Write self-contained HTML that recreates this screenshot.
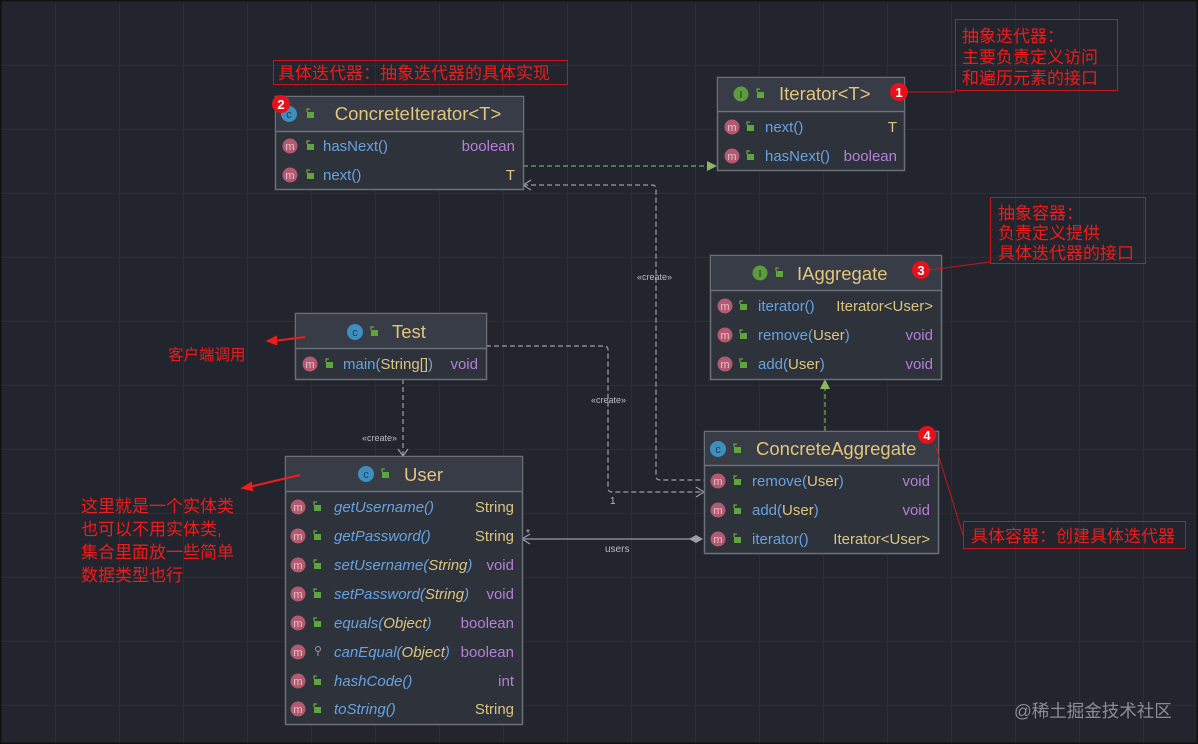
<!DOCTYPE html>
<html><head><meta charset="utf-8"><style>
html,body{margin:0;padding:0;background:#22252d;}
svg{display:block}
.t{font-family:"Liberation Sans","DejaVu Sans",sans-serif;}
.h{font-size:18.5px;fill:#e3c57c}
.r{font-size:15px}
.n{fill:#67a2e0}
.p{fill:#dcc57f}
.v{fill:#b67fd9}
.y{fill:#dcc57f}
.i{font-style:italic}
.cn{font-family:"Liberation Sans","Noto Sans CJK SC",sans-serif;fill:#ee1c1c;font-size:17px}
.lb{font-size:9px;fill:#b8bcc4}
</style></head><body>
<svg width="1198" height="744" viewBox="0 0 1198 744" xmlns="http://www.w3.org/2000/svg">
<defs>
<pattern id="g" x="55" y="65" width="64" height="64" patternUnits="userSpaceOnUse">
<path d="M0 0H64M0 0V64" stroke="#30333c" stroke-width="1.2" fill="none"/>
</pattern>
<g id="m"><circle r="7.5" fill="#b45a70"/><text x="0" y="4" text-anchor="middle" font-size="11" fill="#e4c0c8" font-family="Liberation Sans,sans-serif">m</text></g>
<g id="l"><rect x="-3" y="-3" width="7" height="6" fill="#5ea53e"/><path d="M-3 -3v-3h3" stroke="#5ea53e" fill="none" stroke-width="1.3"/></g>
<g id="c"><circle r="8" fill="#3d8fc0"/><text x="0" y="4" text-anchor="middle" font-size="11" fill="#1d3d55" font-family="Liberation Sans,sans-serif">c</text></g>
</defs>
<rect width="1198" height="744" fill="#22252d"/>
<rect width="1198" height="744" fill="url(#g)"/>
<rect x="0.5" y="0.5" width="1197" height="743" fill="none" stroke="#111" stroke-width="2"/>

<g fill="none" stroke="#9a9ea6" stroke-width="1.2" stroke-dasharray="5,3">
<path d="M523 185H652q4 0 4 4V476q0 4 4 4H704"/>
<path d="M486 346H604q4 0 4 4V488q0 4 4 4H704"/>
<path d="M403 379V456"/>
</g>
<g fill="none" stroke="#9a9ea6" stroke-width="1.2">
<path d="M531 180l-8 5 8 5"/><path d="M696 487l8 5-8 5"/><path d="M398 449l5 7 5-7"/>
<path d="M522 539H690"/><path d="M530 534l-8 5 8 5"/>
</g>
<path d="M689 539l7-4 7 4-7 4z" fill="#9a9ea6"/>
<g fill="none" stroke="#7fa85a" stroke-width="1.2" stroke-dasharray="5,3">
<path d="M523 166H708"/><path d="M825 431V388"/>
</g>
<path d="M717 166l-10-5v10z" fill="#8ab85e"/><path d="M825 379l-5 10h10z" fill="#8ab85e"/>
<g class="t lb">
<text x="637" y="280">«create»</text>
<text x="591" y="403">«create»</text>
<text x="362" y="441">«create»</text>
<text x="610" y="504" font-size="10">1</text>
<text x="526" y="536" font-size="10">*</text>
<text x="605" y="552" font-size="10">users</text>
</g>

<g class="t">
<rect x="275.5" y="96.5" width="248" height="93" fill="#2e323b" stroke="#6b6f78" stroke-width="1.5"/>
<rect x="276" y="97" width="247" height="34" fill="#383c46"/><path d="M276 131.5H523" stroke="#6b6f78" stroke-width="1.5"/>
<use href="#c" x="289" y="114"/><use href="#l" x="310" y="115"/>
<text x="418" y="120" text-anchor="middle" class="h">ConcreteIterator&lt;T&gt;</text>
<use href="#m" x="290" y="146"/><use href="#l" x="310" y="147"/><text x="323" y="151" class="r n">hasNext()</text><text x="515" y="151" text-anchor="end" class="r v">boolean</text>
<use href="#m" x="290" y="175"/><use href="#l" x="310" y="176"/><text x="323" y="180" class="r n">next()</text><text x="515" y="180" text-anchor="end" class="r y">T</text>
</g>

<g class="t">
<rect x="717.5" y="77.5" width="187" height="93" fill="#2e323b" stroke="#6b6f78" stroke-width="1.5"/>
<rect x="718" y="78" width="186" height="33" fill="#383c46"/><path d="M718 111.5H904" stroke="#6b6f78" stroke-width="1.5"/>
<circle cx="741" cy="94" r="7.5" fill="#5e9a3e"/><text x="741" y="98" text-anchor="middle" font-size="10" fill="#1e3010">I</text><use href="#l" x="760" y="95"/>
<text x="779" y="100" class="h">Iterator&lt;T&gt;</text>
<use href="#m" x="732" y="127"/><use href="#l" x="750" y="128"/><text x="765" y="132" class="r n">next()</text><text x="897" y="132" text-anchor="end" class="r y">T</text>
<use href="#m" x="732" y="156"/><use href="#l" x="750" y="157"/><text x="765" y="161" class="r n">hasNext()</text><text x="897" y="161" text-anchor="end" class="r v">boolean</text>
</g>

<g class="t">
<rect x="710.5" y="255.5" width="231" height="124" fill="#2e323b" stroke="#6b6f78" stroke-width="1.5"/>
<rect x="711" y="256" width="230" height="34" fill="#383c46"/><path d="M711 290.5H941" stroke="#6b6f78" stroke-width="1.5"/>
<circle cx="760" cy="273" r="7.5" fill="#5e9a3e"/><text x="760" y="277" text-anchor="middle" font-size="10" fill="#1e3010">I</text><use href="#l" x="779" y="274"/>
<text x="797" y="280" class="h">IAggregate</text>
<use href="#m" x="725" y="306"/><use href="#l" x="743" y="307"/><text x="758" y="311" class="r n">iterator()</text><text x="933" y="311" text-anchor="end" class="r y">Iterator&lt;User&gt;</text>
<use href="#m" x="725" y="335"/><use href="#l" x="743" y="336"/><text x="758" y="340" class="r"><tspan class="n">remove(</tspan><tspan class="p">User</tspan><tspan class="n">)</tspan></text><text x="933" y="340" text-anchor="end" class="r v">void</text>
<use href="#m" x="725" y="364"/><use href="#l" x="743" y="365"/><text x="758" y="369" class="r"><tspan class="n">add(</tspan><tspan class="p">User</tspan><tspan class="n">)</tspan></text><text x="933" y="369" text-anchor="end" class="r v">void</text>
</g>

<g class="t">
<rect x="295.5" y="313.5" width="191" height="66" fill="#2e323b" stroke="#6b6f78" stroke-width="1.5"/>
<rect x="296" y="314" width="190" height="34" fill="#383c46"/><path d="M296 348.5H486" stroke="#6b6f78" stroke-width="1.5"/>
<use href="#c" x="355" y="332"/><use href="#l" x="374" y="333"/>
<text x="392" y="338" class="h">Test</text>
<use href="#m" x="310" y="364"/><use href="#l" x="329" y="365"/><text x="343" y="369" class="r"><tspan class="n">main(</tspan><tspan class="p">String[]</tspan><tspan class="n">)</tspan></text><text x="478" y="369" text-anchor="end" class="r v">void</text>
</g>

<g class="t">
<rect x="285.5" y="456.5" width="237" height="268" fill="#2e323b" stroke="#6b6f78" stroke-width="1.5"/>
<rect x="286" y="457" width="236" height="34" fill="#383c46"/><path d="M286 491.5H522" stroke="#6b6f78" stroke-width="1.5"/>
<use href="#c" x="366" y="474"/><use href="#l" x="385" y="475"/>
<text x="404" y="481" class="h">User</text>
<g class="r">
<use href="#m" x="298" y="507"/><use href="#l" x="317" y="508"/><text x="334" y="512" class="n i">getUsername()</text><text x="514" y="512" text-anchor="end" class="y">String</text>
<use href="#m" x="298" y="536"/><use href="#l" x="317" y="537"/><text x="334" y="541" class="n i">getPassword()</text><text x="514" y="541" text-anchor="end" class="y">String</text>
<use href="#m" x="298" y="565"/><use href="#l" x="317" y="566"/><text x="334" y="570" class="i"><tspan class="n">setUsername(</tspan><tspan class="p">String</tspan><tspan class="n">)</tspan></text><text x="514" y="570" text-anchor="end" class="v">void</text>
<use href="#m" x="298" y="594"/><use href="#l" x="317" y="595"/><text x="334" y="599" class="i"><tspan class="n">setPassword(</tspan><tspan class="p">String</tspan><tspan class="n">)</tspan></text><text x="514" y="599" text-anchor="end" class="v">void</text>
<use href="#m" x="298" y="623"/><use href="#l" x="317" y="624"/><text x="334" y="628" class="i"><tspan class="n">equals(</tspan><tspan class="p">Object</tspan><tspan class="n">)</tspan></text><text x="514" y="628" text-anchor="end" class="v">boolean</text>
<use href="#m" x="298" y="652"/><circle cx="318" cy="649" r="2.5" fill="none" stroke="#999"/><path d="M318 651v5" stroke="#999"/><text x="334" y="657" class="i"><tspan class="n">canEqual(</tspan><tspan class="p">Object</tspan><tspan class="n">)</tspan></text><text x="514" y="657" text-anchor="end" class="v">boolean</text>
<use href="#m" x="298" y="681"/><use href="#l" x="317" y="682"/><text x="334" y="686" class="n i">hashCode()</text><text x="514" y="686" text-anchor="end" class="v">int</text>
<use href="#m" x="298" y="709"/><use href="#l" x="317" y="710"/><text x="334" y="714" class="n i">toString()</text><text x="514" y="714" text-anchor="end" class="y">String</text>
</g></g>

<g class="t">
<rect x="704.5" y="431.5" width="234" height="122" fill="#2e323b" stroke="#6b6f78" stroke-width="1.5"/>
<rect x="705" y="432" width="233" height="33" fill="#383c46"/><path d="M705 465.5H938" stroke="#6b6f78" stroke-width="1.5"/>
<use href="#c" x="718" y="449"/><use href="#l" x="737" y="450"/>
<text x="756" y="455" class="h">ConcreteAggregate</text>
<use href="#m" x="718" y="481"/><use href="#l" x="737" y="482"/><text x="752" y="486" class="r"><tspan class="n">remove(</tspan><tspan class="p">User</tspan><tspan class="n">)</tspan></text><text x="930" y="486" text-anchor="end" class="r v">void</text>
<use href="#m" x="718" y="510"/><use href="#l" x="737" y="511"/><text x="752" y="515" class="r"><tspan class="n">add(</tspan><tspan class="p">User</tspan><tspan class="n">)</tspan></text><text x="930" y="515" text-anchor="end" class="r v">void</text>
<use href="#m" x="718" y="539"/><use href="#l" x="737" y="540"/><text x="752" y="544" class="r n">iterator()</text><text x="930" y="544" text-anchor="end" class="r y">Iterator&lt;User&gt;</text>
</g>

<g fill="none" stroke="#c8161c" stroke-width="1">
<rect x="273.5" y="60.5" width="294" height="24"/>
<rect x="955.5" y="19.5" width="162" height="71"/>
<rect x="990.5" y="197.5" width="155" height="66"/>
<rect x="963.5" y="521.5" width="222" height="27"/>
<path d="M908 92H955"/><path d="M929 270L990 262"/><path d="M935 444L963 535"/>
</g>
<g stroke="#ee1c1c" stroke-width="2" fill="#ee1c1c">
<path d="M305 337L274 341"/><path d="M268 341l8-4v7z"/>
<path d="M300 475L249 487"/><path d="M243 488l8-5 1 7z"/>
</g>
<g class="t" fill="#ee1c1c" font-size="13" font-weight="bold" text-anchor="middle">
<circle cx="281" cy="104" r="9" fill="#e8101a"/><text x="281" y="109" fill="#fff">2</text>
<circle cx="899" cy="92" r="9" fill="#e8101a"/><text x="899" y="97" fill="#fff">1</text>
<circle cx="921" cy="270" r="9" fill="#e8101a"/><text x="921" y="275" fill="#fff">3</text>
<circle cx="927" cy="435" r="9" fill="#e8101a"/><text x="927" y="440" fill="#fff">4</text>
</g>
<g class="cn">
<text x="278" y="79">具体迭代器：抽象迭代器的具体实现</text>
<text x="962" y="42">抽象迭代器：</text>
<text x="962" y="63">主要负责定义访问</text>
<text x="962" y="84">和遍历元素的接口</text>
<text x="998" y="219">抽象容器：</text>
<text x="998" y="239">负责定义提供</text>
<text x="998" y="259">具体迭代器的接口</text>
<text x="971" y="542">具体容器：创建具体迭代器</text>
<text x="168" y="360" font-size="15.5">客户端调用</text>
<text x="81" y="512">这里就是一个实体类</text>
<text x="81" y="535">也可以不用实体类,</text>
<text x="81" y="558">集合里面放一些简单</text>
<text x="81" y="581">数据类型也行</text>
</g>
<text x="1014" y="717" font-family="Liberation Sans,Noto Sans CJK SC,sans-serif" font-size="17.5" fill="#8a8d94">@稀土掘金技术社区</text>
</svg>
</body></html>
